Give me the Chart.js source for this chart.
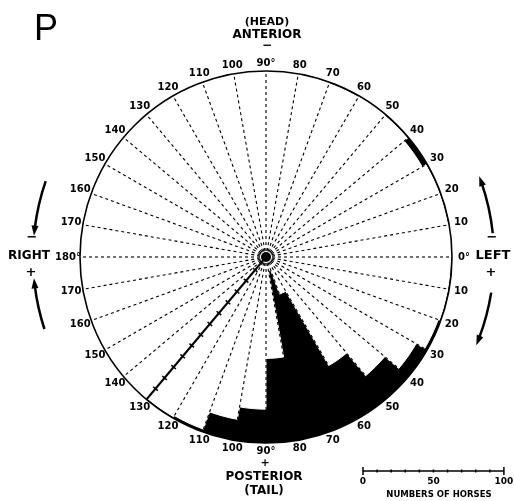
<!DOCTYPE html>
<html>
<head>
<meta charset="utf-8">
<script src="https://cdn.jsdelivr.net/npm/chart.js@4"></script>
<style>
  body { margin: 0; background: #fff; }
  canvas { display: block; }
</style>
</head>
<body>
<canvas id="polarChart" width="514" height="501"></canvas>
<script>
// boundary labels, clockwise from the 0° line on the right (posterior half first)
const lowerLabels = ["0°", "10", "20", "30", "40", "50", "60", "70", "80", "90°", "100", "110", "120", "130", "140", "150", "160", "170"];
const upperLabels = ["180°", "170", "160", "150", "140", "130", "120", "110", "100", "90°", "80", "70", "60", "50", "40", "30", "20", "10"];

// numbers of horses in each 10° sector, same order as the labels
const lowerCounts = [1, 1, 2, 9, 22, 43, 104, 122, 60, 24, 15, 2, 1, 0, 0, 0, 0, 0];
const upperCounts = [0, 0, 0, 0, 0, 0, 0, 0, 0, 0, 0, 1, 0, 1, 4, 1, 1, 0];

const scaleMax = 132;        // horses from the rim to the centre
const rulerIndex = 13;       // the posterior 130° line carries the ruler
const rulerTicks = [10, 20, 30, 40, 50, 60, 70, 80, 90, 100, 110, 120];
const barTicks = [0, 10, 20, 30, 40, 50, 60, 70, 80, 90, 100];
const barLabels = ["0", "50", "100"];

const sectorLabels = lowerLabels.concat(upperLabels);
const horseCounts = lowerCounts.concat(upperCounts);

const BOLD = '"DejaVu Sans"';

function arcArrow(ctx, cx, cy, rad, a0, a1) {
    const s = a1 > a0 ? 1 : -1;
    const b0 = a0 * Math.PI / 180, b1 = a1 * Math.PI / 180;
    ctx.beginPath();
    ctx.arc(cx, cy, rad, b0, b1 - s * 0.02, s < 0);
    ctx.stroke();
    const px = cx + rad * Math.cos(b1), py = cy + rad * Math.sin(b1);
    const tx = -Math.sin(b1) * s, ty = Math.cos(b1) * s;
    ctx.beginPath();
    ctx.moveTo(px + tx * 3, py + ty * 3);
    ctx.lineTo(px - tx * 7 - ty * 3.5, py - ty * 7 + tx * 3.5);
    ctx.lineTo(px - tx * 7 + ty * 3.5, py - ty * 7 - tx * 3.5);
    ctx.closePath();
    ctx.fill();
}

function text(ctx, str, x, y, size) {
    ctx.font = 'bold ' + size + 'px ' + BOLD;
    ctx.fillText(str, x, y);
}

const extras = {
    id: 'extras',
    beforeDatasetsDraw(chart) {
        const r = chart.scales.r;
        const ctx = chart.ctx;
        ctx.save();
        ctx.fillStyle = '#000';
        ctx.beginPath();
        ctx.arc(r.xCenter, r.yCenter, r.drawingArea, 0, Math.PI * 2);
        ctx.fill();
        ctx.restore();
    },
    afterDraw(chart) {
        const r = chart.scales.r;
        const ctx = chart.ctx;
        const cx = r.xCenter, cy = r.yCenter, R = r.drawingArea;
        ctx.save();
        ctx.strokeStyle = '#000';
        ctx.fillStyle = '#000';

        // rim
        ctx.lineWidth = 1.6;
        ctx.beginPath();
        ctx.arc(cx, cy, R, 0, Math.PI * 2);
        ctx.stroke();

        // blob where the lines meet
        ctx.beginPath();
        ctx.arc(cx, cy, 5, 0, Math.PI * 2);
        ctx.fill();

        // ruler ticks on the 130° line
        const ang = r.getIndexAngle(rulerIndex) - Math.PI / 2;
        const nx = -Math.sin(ang), ny = Math.cos(ang);
        ctx.lineWidth = 1.5;
        rulerTicks.forEach(v => {
            const p = r.getPointPosition(rulerIndex, r.getDistanceFromCenterForValue(v));
            ctx.beginPath();
            ctx.moveTo(p.x - nx * 3, p.y - ny * 3);
            ctx.lineTo(p.x + nx * 3, p.y + ny * 3);
            ctx.stroke();
        });

        // angle labels round the rim
        ctx.textAlign = 'center';
        ctx.textBaseline = 'middle';
        ctx.font = 'bold 10px ' + BOLD;
        chart.data.labels.forEach((lab, i) => {
            const a = r.getIndexAngle(i) - Math.PI / 2;
            const p = r.getPointPosition(i, R + 8 + 4 * Math.abs(Math.cos(a)));
            ctx.fillText(lab, p.x, p.y);
        });

        // head / tail / sides
        text(ctx, '(HEAD)', 267, 22, 11);
        text(ctx, 'ANTERIOR', 267, 35, 12);
        text(ctx, '\u2212', 267, 46, 12);
        text(ctx, '+', 265, 463, 11);
        text(ctx, 'POSTERIOR', 264, 477, 12);
        text(ctx, '(TAIL)', 264, 491, 12);
        text(ctx, 'RIGHT', 29, 256, 12);
        text(ctx, '\u2212', 32, 238, 13);
        text(ctx, '+', 31, 273, 13);
        text(ctx, 'LEFT', 493, 256, 13);
        text(ctx, '\u2212', 492, 238, 13);
        text(ctx, '+', 491, 273, 13);

        // direction arrows
        ctx.lineWidth = 2.5;
        arcArrow(ctx, cx, cy, 233, -161, -174);
        arcArrow(ctx, cx, cy, 233, 162, 174);
        arcArrow(ctx, cx, cy, 228, -6, -20);
        arcArrow(ctx, cx, cy, 228, 9, 22);

        // numbers-of-horses bar, same scale as the rays
        const unit = R / (r.max - r.min);
        const x0 = 363, y0 = 471;
        ctx.lineWidth = 1.5;
        ctx.beginPath();
        ctx.moveTo(x0, y0);
        ctx.lineTo(x0 + 100 * unit, y0);
        ctx.stroke();
        barTicks.forEach(v => {
            const x = x0 + v * unit;
            const h = (v === 0 || v === 100) ? 4 : 1.5;
            ctx.beginPath();
            ctx.moveTo(x, y0 - h);
            ctx.lineTo(x, y0 + h);
            ctx.stroke();
        });
        barLabels.forEach(l => text(ctx, l, x0 + Number(l) * unit, 482, 9));
        text(ctx, 'NUMBERS OF HORSES', 439, 495, 8.5);

        // panel letter
        ctx.textAlign = 'left';
        ctx.textBaseline = 'alphabetic';
        ctx.font = '36px "Liberation Sans"';
        ctx.fillText('P', 34, 40);
        ctx.restore();
    }
};

new Chart(document.getElementById('polarChart'), {
    type: 'polarArea',
    data: {
        labels: sectorLabels,
        datasets: [{
            data: horseCounts,
            backgroundColor: '#fff',
            borderColor: '#fff',
            borderWidth: 1
        }]
    },
    options: {
        responsive: false,
        animation: false,
        layout: { padding: { left: 80, top: 71, right: 62, bottom: 58 } },
        plugins: {
            legend: { display: false },
            tooltip: { enabled: false }
        },
        scales: {
            r: {
                min: 0,
                max: scaleMax,
                reverse: true,
                startAngle: 90,
                ticks: { display: false },
                pointLabels: { display: false },
                grid: { display: false, z: 1 },
                angleLines: {
                    display: true,
                    color: '#000',
                    lineWidth: ctx => ctx.index === rulerIndex ? 2 : 1.1,
                    borderDash: ctx => ctx.index === rulerIndex ? [] : [3, 3]
                }
            }
        }
    },
    plugins: [extras]
});
</script>
</body>
</html>
